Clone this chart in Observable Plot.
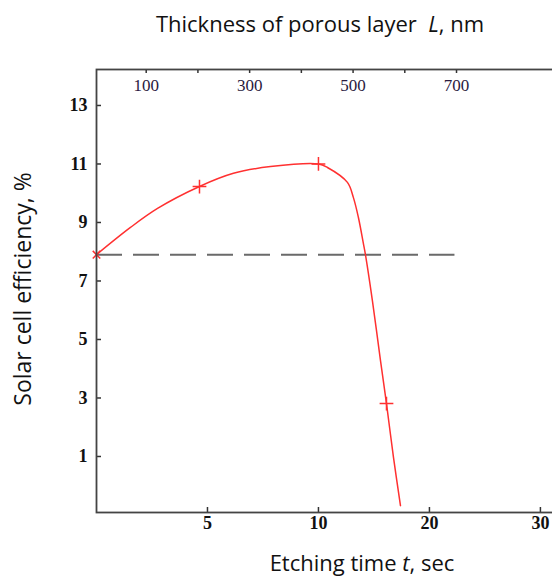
<!DOCTYPE html>
<html>
<head>
<meta charset="utf-8">
<script src="https://cdn.jsdelivr.net/npm/d3@7"></script>
<script src="https://cdn.jsdelivr.net/npm/@observablehq/plot@0.6"></script>
<style>
  html, body { margin: 0; padding: 0; background: #fff; overflow: hidden; }
  #wrap { position: relative; width: 552px; height: 578px; overflow: hidden; }
  #wrap svg { position: absolute; left: 0; top: 0; max-width: none !important; }
  .lbl { position: absolute; font-family: "Open Sans", Lato, sans-serif; font-size: 22px; line-height: 30px; color: #111; white-space: nowrap; transform: translate(-50%, -50%); }
</style>
</head>
<body>
<div id="wrap"></div>
<script>
// Curve: etching time t (sec) vs solar cell efficiency (%)
const tSec   = [0, 1.53, 2.75, 4.64, 6.17, 7.84, 10, 10.81, 12.61, 13.15, 13.6, 14.05, 14.23, 14.86, 15.59, 16.13, 16.76, 17.39];
const effPct = [7.9, 8.83, 9.48, 10.23, 10.68, 10.91, 11.0, 10.88, 10.37, 9.85, 9.17, 8.28, 7.91, 6.33, 4.28, 2.81, 0.97, -0.68];
// Measured points (plus markers)
const markT = [4.64, 10, 16.13];
const markE = [10.23, 11.0, 2.81];
// Start point (times marker)
const startT = [0];
const startE = [7.9];
// Reference (untreated) efficiency, dashed
const refEff = 7.9;
const refEndT = 22.3;
// Tick labels
const xTicks = [5, 10, 20, 30];
const yTicks = [1, 3, 5, 7, 9, 11, 13];
const lTicks = [100, 200, 300, 400, 500, 600, 700];
const lLabels = [100, 300, 500, 700];

const curveData = tSec.map((t, i) => ({t, e: effPct[i]}));
const markData = markT.map((t, i) => ({t, e: markE[i]}));
const startData = startT.map((t, i) => ({t, e: startE[i]}));

// The printed time axis is piecewise: 0, 5, 10, 20, 30 s are equally spaced.
const tStops = [0, 5, 10, 20, 30];
const tAxisUnits = d3.scaleLinear().domain(tStops).range(tStops.map((_, i) => i));

const W = 580, H = 578, ML = 96, MR = 19, MT = 69, MB = 66;
const serif = "'Liberation Serif', 'Times New Roman', serif";

const mainPlot = Plot.plot({
  width: W, height: H,
  marginLeft: ML, marginRight: MR, marginTop: MT, marginBottom: MB,
  style: {background: "transparent", overflow: "visible", maxWidth: "none"},
  x: {transform: t => tAxisUnits(t), domain: [0, 4.19]},
  y: {domain: [-0.915, 14.23]},
  marks: [
    Plot.ruleY([refEff], {x1: 0, x2: refEndT, stroke: "#6a6a6a", strokeWidth: 2, strokeDasharray: "26,11"}),
    Plot.line(curveData, {x: "t", y: "e", stroke: "#ff3030", strokeWidth: 1.5, curve: "catmull-rom"}),
    Plot.dot(markData, {x: "t", y: "e", symbol: "plus", r: 4.5, stroke: "#ff3030", strokeWidth: 1.5}),
    Plot.dot(startData, {x: "t", y: "e", symbol: "times", r: 3.5, stroke: "#ff3030", strokeWidth: 1.5}),
    Plot.axisY(yTicks, {anchor: "left", tickSize: -5, fill: "none", stroke: "#333", strokeWidth: 1.5}),
    Plot.axisX(xTicks, {anchor: "bottom", tickSize: -5, fill: "none", stroke: "#333", strokeWidth: 1.5}),
    Plot.text(yTicks, {y: d => d, text: d => String(d), frameAnchor: "left", dx: -9, textAnchor: "end",
      fontFamily: serif, fontWeight: "bold", fontSize: 18, fill: "#111"}),
    Plot.text(xTicks, {x: d => d, text: d => String(d), frameAnchor: "bottom", dy: 16,
      fontFamily: serif, fontWeight: "bold", fontSize: 18, fill: "#111"}),
    Plot.frame({stroke: "#444", strokeWidth: 1.8})
  ]
});

const topPlot = Plot.plot({
  width: W, height: H,
  marginLeft: ML, marginRight: MR, marginTop: MT, marginBottom: MB,
  style: {background: "transparent", overflow: "visible", maxWidth: "none"},
  x: {domain: [3.9, 903]},
  marks: [
    Plot.axisX(lTicks, {anchor: "top", tickSize: -3, fill: "none", stroke: "#333", strokeWidth: 1.5}),
    Plot.text(lLabels, {x: d => d, text: d => String(d), frameAnchor: "top", dy: 9,
      fontFamily: serif, fontSize: 17, fill: "#2a1a3e"})
  ]
});
topPlot.style.pointerEvents = "none";

const wrap = document.getElementById("wrap");
wrap.appendChild(mainPlot);
wrap.appendChild(topPlot);

function addLabel(html, x, y, rotate) {
  const d = document.createElement("div");
  d.className = "lbl";
  d.innerHTML = html;
  d.style.left = x + "px";
  d.style.top = y + "px";
  if (rotate) {
    d.style.transform = "translate(-50%, -50%) rotate(-90deg)";
    d.style.fontSize = "23px";
  }
  wrap.appendChild(d);
}
addLabel("Thickness of porous layer&nbsp; <i>L</i>, nm", 320, 23);
addLabel("Solar cell efficiency, %", 22, 289, true);
addLabel("Etching time <i>t</i>, sec", 362, 562);
</script>
</body>
</html>
